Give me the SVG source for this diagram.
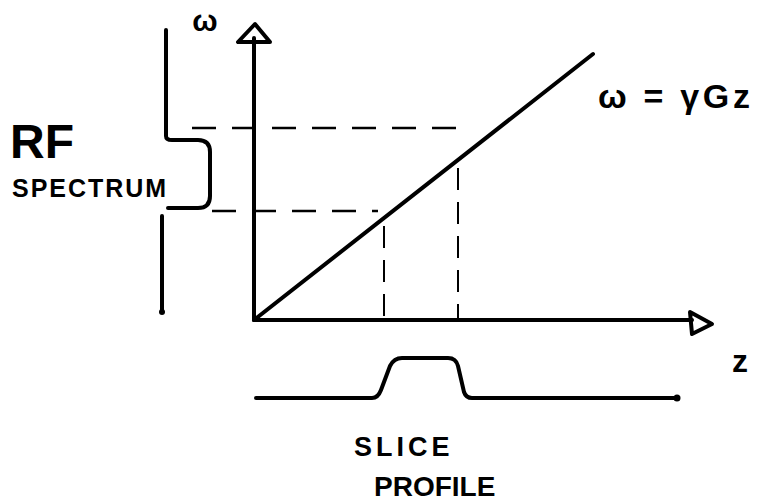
<svg xmlns="http://www.w3.org/2000/svg" width="757" height="502" viewBox="0 0 757 502">
<style>
.ln{fill:none;stroke:#000;stroke-width:4;stroke-linecap:round;stroke-linejoin:round}
.ds{fill:none;stroke:#000;stroke-width:2.5;stroke-dasharray:24 16}
.dv{fill:none;stroke:#000;stroke-width:2;stroke-dasharray:22 12}
.t{font-family:"Liberation Sans",Arial,sans-serif;font-weight:bold;fill:#000}
</style>
<rect width="757" height="502" fill="#fff"/>
<g id="connectors">
<path class="ds" d="M192 128 H470"/>
<path class="ds" d="M212 211 H378"/>
<path class="dv" d="M384 226 V320"/>
<path class="dv" d="M458 168 V320"/>
</g>
<g id="axes">
<path class="ln" d="M254 320 V38"/>
<path class="ln" d="M255 24 L238 42 L270 42 Z"/>
<path class="ln" d="M254 320 H692"/>
<path class="ln" d="M690 312 L712 324 L692 334 Z"/>
<path class="ln" d="M254 320 L593 54"/>
</g>
<g id="rf-spectrum">
<path class="ln" d="M166 30 V136 Q166 140 172 140 H198 Q210 140 210 152 V196 Q210 208 198 208 H168"/>
<path class="ln" d="M162 216 V312"/>
<circle cx="162" cy="312" r="3"/>
</g>
<g id="slice-profile">
<path class="ln" d="M256 398 H372 Q378 398 381 390 L390 366 Q394 358 402 358 H448 Q456 358 458 366 L464 392 Q466 398 472 398 H677"/>
<circle cx="677" cy="398" r="3.5"/>
</g>
<g id="labels">
<text class="t" x="205" y="31" font-size="30" text-anchor="middle">ω</text>
<text class="t" x="10" y="158" font-size="48">RF</text>
<text class="t" x="12" y="197" font-size="25" textLength="154">SPECTRUM</text>
<text class="t" x="598" y="108" font-size="34" textLength="152">ω = γGz</text>
<text class="t" x="740" y="372" font-size="32" text-anchor="middle">z</text>
<text class="t" x="354" y="456" font-size="27" letter-spacing="4">SLICE</text>
<text class="t" x="374" y="496" font-size="28">PROFILE</text>
</g>
</svg>
